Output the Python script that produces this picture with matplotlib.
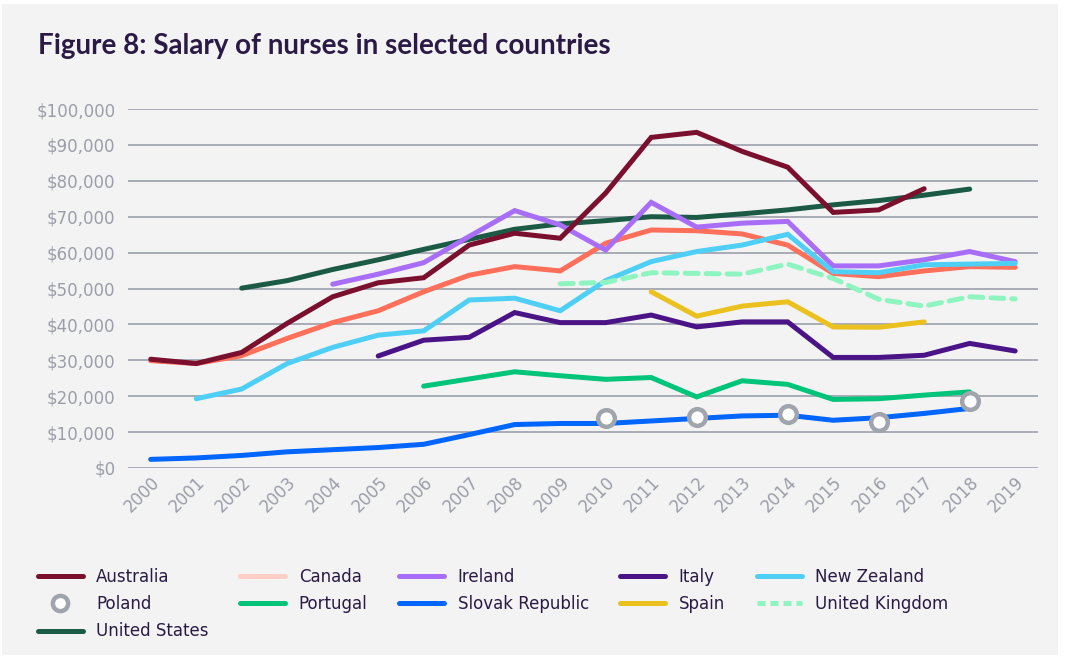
import matplotlib
matplotlib.use("Agg")
import matplotlib.pyplot as plt
from matplotlib.lines import Line2D
from matplotlib.patches import Rectangle
import numpy as np

plt.rcParams['font.family'] = 'DejaVu Sans'

years = list(range(2000, 2020))

# salaries in USD, None where no data
australia = [30300, 29100, 32200, 40300, 47700, 51600, 53000, 62100, 65400, 64000,
             76600, 92100, 93500, 88200, 83800, 71200, 71900, 77800, None, None]
canada = [29900, 29100, 31300, 36100, 40500, 43800, 49100, 53700, 56100, 54900,
          62600, 66300, 66100, 65200, 62100, 54200, 53300, 54900, 56100, 55900]
ireland = [None, None, None, None, 51200, 54000, 57200, 64500, 71700, 67700,
           60700, 74000, 67100, 68200, 68700, 56300, 56300, 58000, 60300, 57500]
italy = [None, None, None, None, None, 31200, 35600, 36400, 43300, 40500,
         40500, 42600, 39300, 40700, 40700, 30800, 30800, 31400, 34700, 32600]
new_zealand = [None, 19300, 22000, 29100, 33600, 37000, 38200, 46800, 47300, 43800,
               52200, 57500, 60300, 62100, 65100, 54700, 54400, 56600, 56800, 57000]
poland = [None, None, None, None, None, None, None, None, None, None,
          13800, None, 14200, None, 15000, None, 12700, None, 18600, None]
portugal = [None, None, None, None, None, None, 22800, 24800, 26800, 25700,
            24700, 25200, 19800, 24300, 23300, 19100, 19300, 20300, 21200, None]
slovak = [2400, 2800, 3500, 4500, 5100, 5700, 6600, 9300, 12100, 12400,
          12400, 13100, 13800, 14500, 14700, 13300, 14000, 15200, 16600, None]
spain = [None, None, None, None, None, None, None, None, None, None,
         None, 49100, 42300, 45100, 46300, 39300, 39200, 40700, None, None]
uk = [None, None, None, None, None, None, None, None, None, 51300,
      51700, 54400, 54200, 54000, 56800, 52800, 47000, 45100, 47700, 47100]
us = [None, None, 50100, 52200, 55300, 58000, 60900, 63700, 66500, 68000,
      68900, 70000, 69800, 70800, 71900, 73300, 74500, 76000, 77700, None]

y_ticks = list(range(0, 100001, 10000))
y_labels = ["$0", "$10,000", "$20,000", "$30,000", "$40,000", "$50,000",
            "$60,000", "$70,000", "$80,000", "$90,000", "$100,000"]

bg = "#f3f3f3"
text_dark = "#2a1a45"
grey = "#9b9ea9"

def arr(vals):
    return np.array([np.nan if v is None else v for v in vals], dtype=float)

fig = plt.figure(figsize=(10.7, 6.64), dpi=100, facecolor="white")
fig.patches.append(Rectangle((0.002, 0.0136), 0.987, 0.98, transform=fig.transFigure,
                             facecolor=bg, edgecolor="none", zorder=-10))
ax = fig.add_axes([0.1196, 0.2952, 0.8504, 0.5406])
ax.set_facecolor("none")

x = np.arange(len(years))
lw = 3.6
series = [
    ("Canada", canada, "#ff6f59"),
    ("United States", us, "#1b5a45"),
    ("Ireland", ireland, "#a86ef7"),
    ("New Zealand", new_zealand, "#4fcff5"),
    ("Italy", italy, "#4a1486"),
    ("Portugal", portugal, "#00c47a"),
    ("Slovak Republic", slovak, "#0066ff"),
    ("Spain", spain, "#ebc11f"),
    ("Australia", australia, "#7a0f2e"),
]
for name, vals, col in series:
    ax.plot(x, arr(vals), color=col, lw=lw, solid_capstyle="round",
            solid_joinstyle="miter", zorder=3)
ax.plot(x, arr(uk), color="#8ef5c0", lw=lw, dashes=(2.6, 1.6),
        dash_capstyle="round", zorder=3)
ax.plot(x, arr(poland), ls="none", marker="o", ms=12, mew=3.2,
        mec="#a0a4ad", mfc="white", zorder=5)

ax.set_ylim(0, 100000)
ax.set_xlim(-0.5, 19.5)
ax.set_yticks(y_ticks)
ax.set_yticklabels(y_labels, color=grey, fontsize=12)
ax.set_xticks(x)
ax.set_xticklabels([str(y) for y in years], color=grey, fontsize=12,
                   rotation=45, ha="right", rotation_mode="anchor")
ax.tick_params(axis="both", length=0)
ax.tick_params(axis="y", pad=9)
ax.tick_params(axis="x", pad=4)
ax.grid(axis="y", color="#a3a6b1", lw=1.3, zorder=0)
for s in ax.spines.values():
    s.set_visible(False)

fig.text(0.0355, 0.93, "Figure 8: Salary of nurses in selected countries",
         fontsize=20, fontweight="bold", family="Lato", color=text_dark,
         va="center", ha="left")

def h(col, **kw):
    return Line2D([], [], color=col, lw=lw, solid_capstyle="round", **kw)

handles = {
    "Australia": h("#7a0f2e"),
    "Canada": h("#ffcfc6"),
    "Ireland": h("#a86ef7"),
    "Italy": h("#4a1486"),
    "New Zealand": h("#4fcff5"),
    "Poland": Line2D([], [], ls="none", marker="o", ms=11, mew=3.2,
                     mec="#a0a4ad", mfc="white"),
    "Portugal": h("#00c47a"),
    "Slovak Republic": h("#0066ff"),
    "Spain": h("#ebc11f"),
    "United Kingdom": Line2D([], [], color="#8ef5c0", lw=lw, dashes=(1.6, 1.0)),
    "United States": h("#1b5a45"),
}
order = ["Australia", "Poland", "United States", "Canada", "Portugal", "Ireland",
         "Slovak Republic", "Italy", "Spain", "New Zealand", "United Kingdom"]
leg = fig.legend([handles[k] for k in order], order, loc="upper left",
                 bbox_to_anchor=(0.0355, 0.1445), bbox_transform=fig.transFigure,
                 ncol=5, frameon=False, fontsize=12, handlelength=2.7,
                 handletextpad=0.8, columnspacing=1.9, labelspacing=0.55,
                 borderaxespad=0, borderpad=0)
for t in leg.get_texts():
    t.set_color(text_dark)

fig.savefig("out.png", dpi=100, facecolor="white")
